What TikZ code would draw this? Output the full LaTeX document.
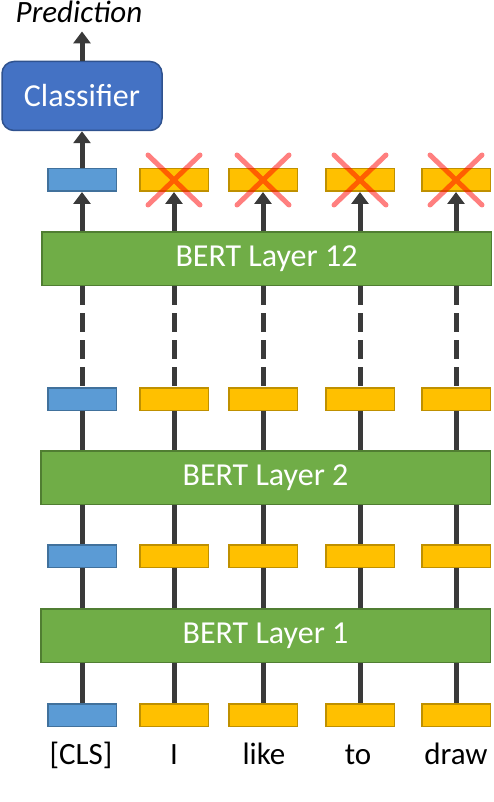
\documentclass[tikz,border=0pt]{standalone}
\usepackage{fontspec}
\setmainfont{Carlito}
\usetikzlibrary{arrows.meta}

\definecolor{clsfill}{RGB}{91,155,213}
\definecolor{clsline}{RGB}{65,113,156}
\definecolor{wordfill}{RGB}{255,192,0}
\definecolor{wordline}{RGB}{191,144,0}
\definecolor{layerfill}{RGB}{112,173,71}
\definecolor{layerline}{RGB}{80,126,50}
\definecolor{headfill}{RGB}{68,114,196}
\definecolor{headline}{RGB}{47,82,143}
\definecolor{linkgray}{RGB}{58,58,58}

\begin{document}
\begin{tikzpicture}[x=1pt, y=-1pt,
  tok/.style={draw, line width=1.5pt, minimum width=68.5pt, minimum height=22.5pt, inner sep=0pt},
  clstok/.style={tok, fill=clsfill, draw=clsline},
  wordtok/.style={tok, fill=wordfill, draw=wordline},
  layer/.style={draw=layerline, fill=layerfill, line width=1.5pt, minimum width=449.5pt,
    minimum height=53.5pt, text=white, font=\fontsize{32}{38}\selectfont},
  word/.style={font=\fontsize{31}{36}\selectfont, anchor=base, inner sep=0pt},
  link/.style={draw=linkgray, line width=5pt},
  uplink/.style={link, -{Triangle[width=17pt,length=12pt]}},
  dropped/.style={draw=red, opacity=0.5, line width=5pt, line cap=round}]
\def \cx {26} % half width of a cross
\def \cy {25} % half height of a cross

\useasboundingbox (0,0) rectangle (494,802);

% token rows: 0 = input, 1 / 2 / 12 = after that layer
\foreach \r/\y in {0/715, 1/556, 2/399, 12/180}
{
  \foreach \i/\x in {0/82, 1/174, 2/263, 3/360, 4/456}
  {
    \ifnum\i=0 \def\sty{clstok}\else\def\sty{wordtok}\fi
    \node[\sty] (r\r-\i) at (\x,\y) {};
  }
}

% the layers
\node[layer] (l1) at (265.5,635.5) {BERT Layer 1};
\node[layer] (l2) at (265.5,477.5) {BERT Layer 2};
\node[layer] (l12) at (266.5,258.5) {BERT Layer 12};

% input words
\foreach \i/\x/\w in {0/81/{[CLS]}, 1/174/I, 2/264/like, 3/358/to, 4/456/draw}
  \node[word] (w\i) at (\x,764) {\w};

% classifier on top of [CLS]
\node[draw=headline, fill=headfill, line width=1.5pt, rounded corners=12pt,
  minimum width=160pt, minimum height=69pt, text=white,
  font=\fontsize{32}{38}\selectfont] (clf) at (82,96) {Classifier};
\node[word, font=\fontsize{31}{36}\selectfont\itshape] (pred) at (79,23) {Prediction};

\foreach \i in {0,...,4}
{
  \draw[link] (r0-\i.north) -- (r0-\i.north |- l1.south);
  \draw[link] (l1.north -| r1-\i.south) -- (r1-\i.south);
  \draw[link] (r1-\i.north) -- (r1-\i.north |- l2.south);
  \draw[link] (l2.north -| r2-\i.south) -- (r2-\i.south);
  \draw[link, dash pattern=on 19pt off 8pt] (l12.south -| r2-\i.north) -- (r2-\i.north);
  \draw[uplink] (l12.north -| r12-\i.south) -- (r12-\i.south);
}

\draw[uplink] (r12-0.north) -- (r12-0.north |- clf.south);
\draw[uplink, shorten >=8pt] (clf.north) -- (clf.north |- pred.south);

% word outputs are not used
\foreach \i in {1,...,4}
  \draw[dropped] ([shift={(-\cx,-\cy)}]r12-\i.center) -- ([shift={(\cx,\cy)}]r12-\i.center)
    ([shift={(-\cx,\cy)}]r12-\i.center) -- ([shift={(\cx,-\cy)}]r12-\i.center);

\end{tikzpicture}
\end{document}
